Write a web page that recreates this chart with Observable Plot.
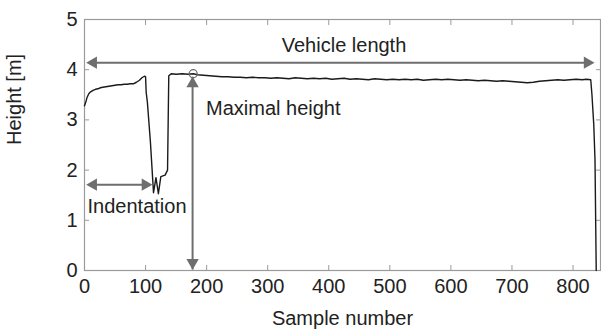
<!DOCTYPE html>
<html>
<head>
<meta charset="utf-8">
<script src="https://cdn.jsdelivr.net/npm/d3@7"></script>
<script src="https://cdn.jsdelivr.net/npm/@observablehq/plot@0.6"></script>
<style>
  html, body { margin: 0; padding: 0; background: #fff; }
  #chart svg { display: block; }
</style>
</head>
<body>
<div id="chart"></div>
<script>
// Samples (x) and measured heights (m)
const samples = [0, 2, 4, 7, 10, 14, 18, 22, 26, 30, 35, 40, 45, 50, 55, 60, 65, 70, 75, 80, 85, 90, 94, 98, 100,
  101, 103, 108, 112, 113, 114, 117, 121, 125, 132, 136, 138, 140, 142,
  150, 160, 170, 178, 185, 195, 205, 215, 225, 235, 245, 255, 265, 275, 285,
  295, 305, 315, 325, 335, 345, 355, 365, 375, 385, 395, 405, 415, 425, 435, 445, 455, 465, 475, 485, 495,
  505, 515, 525, 535, 545, 555, 565, 575, 585, 595, 605, 615, 625, 635, 645, 655, 665, 675, 685, 695,
  705, 715, 725, 735, 745, 755, 765, 775, 785, 795, 805, 815, 822, 829, 831, 834, 836, 838];
const heights = [3.28, 3.35, 3.44, 3.52, 3.56, 3.59, 3.61, 3.62, 3.64, 3.65, 3.66, 3.67, 3.68, 3.69, 3.70, 3.70, 3.71, 3.71, 3.72, 3.72, 3.75, 3.79, 3.84, 3.87, 3.86,
  3.55, 3.35, 2.55, 1.75, 1.55, 1.62, 1.85, 1.53, 1.87, 1.90, 2.0, 3.88, 3.90, 3.92,
  3.91, 3.92, 3.91, 3.92, 3.90, 3.89, 3.88, 3.87, 3.86, 3.86, 3.85, 3.85, 3.84, 3.85, 3.84,
  3.84, 3.83, 3.84, 3.83, 3.82, 3.84, 3.83, 3.82, 3.83, 3.82, 3.83, 3.81, 3.82, 3.83, 3.81, 3.82, 3.81, 3.80, 3.82, 3.81, 3.80,
  3.81, 3.80, 3.81, 3.80, 3.81, 3.79, 3.80, 3.81, 3.80, 3.81, 3.80, 3.79, 3.80, 3.79, 3.78, 3.79, 3.78, 3.77, 3.78, 3.77,
  3.76, 3.75, 3.74, 3.75, 3.77, 3.78, 3.79, 3.80, 3.79, 3.80, 3.81, 3.80, 3.81, 3.80, 3.5, 2.9, 2.2, 0];

const xTicks = [0, 100, 200, 300, 400, 500, 600, 700, 800];
const yTicks = [0, 1, 2, 3, 4, 5];

// Annotation values
const lengthArrow = {x1: 3, x2: 835, y: 4.14};
const maxPoint = {x: 178, y: 3.92};
const maxArrow = {x: 177, y1: 3.86, y2: 0.02};
const indentArrow = {x1: 3, x2: 111, y: 1.71};
const centerLabels = [{text: "Vehicle length", x: 425, y: 4.48}];
const startLabels = [
  {text: "Maximal height", x: 199, y: 3.23},
  {text: "Indentation", x: 5, y: 1.27}
];

const data = samples.map((s, i) => ({s, h: heights[i]}));
const gray = "#6e6e6e";
const axisGray = "#9a9a9a";
const font = "Liberation Sans, Arial, sans-serif";
const fs = 20;

const chart = Plot.plot({
  width: 601,
  height: 333,
  marginTop: 19,
  marginRight: 1,
  marginBottom: 63,
  marginLeft: 84,
  style: {fontFamily: font, fontSize: fs + "px", color: "#222", background: "#fff"},
  x: {domain: [0, 845]},
  y: {domain: [0, 5]},
  marks: [
    // inward ticks
    Plot.axisX(xTicks, {anchor: "bottom", tickSize: 5, dy: -5, text: null, stroke: axisGray, label: null}),
    Plot.axisX(xTicks, {anchor: "top", tickSize: 5, dy: 5, text: null, stroke: axisGray, label: null}),
    Plot.axisY(yTicks, {anchor: "left", tickSize: 5, dx: 5, text: null, stroke: axisGray, label: null}),
    Plot.axisY(yTicks, {anchor: "right", tickSize: 5, dx: -5, text: null, stroke: axisGray, label: null}),
    // tick labels
    Plot.axisX(xTicks, {anchor: "bottom", tickSize: 0, tickPadding: 8, label: null, fill: "#222", fontSize: fs, tickFormat: d3.format("d")}),
    Plot.axisY(yTicks, {anchor: "left", tickSize: 0, tickPadding: 7, label: null, fill: "#222", fontSize: fs, tickFormat: d3.format("d")}),
    Plot.frame({stroke: axisGray, strokeWidth: 1.2}),
    // axis titles
    Plot.text(["Sample number"], {frameAnchor: "bottom", dy: 54, fontSize: fs, fill: "#222"}),
    Plot.text(["Height [m]"], {frameAnchor: "left", dx: -70, rotate: -90, fontSize: fs, fill: "#222"}),
    // data line
    Plot.line(data, {x: "s", y: "h", stroke: "#1a1a1a", strokeWidth: 1.4}),
    // vehicle length arrow
    Plot.link([lengthArrow], {x1: d => d.x1 + 10, x2: d => d.x2 - 10, y1: "y", y2: "y", stroke: gray, strokeWidth: 2}),
    Plot.dot([lengthArrow], {x: "x1", y: "y", symbol: "triangle", rotate: -90, r: 4.6, fill: gray, dx: 7}),
    Plot.dot([lengthArrow], {x: "x2", y: "y", symbol: "triangle", rotate: 90, r: 4.6, fill: gray, dx: -7}),
    // maximal height arrow
    Plot.link([maxArrow], {x1: "x", x2: "x", y1: "y1", y2: "y2", stroke: gray, strokeWidth: 2}),
    Plot.dot([maxArrow], {x: "x", y: "y1", symbol: "triangle", rotate: 0, r: 4.6, fill: gray, dy: 7}),
    Plot.dot([maxArrow], {x: "x", y: "y2", symbol: "triangle", rotate: 180, r: 4.6, fill: gray, dy: -7}),
    Plot.dot([maxPoint], {x: "x", y: "y", r: 4, stroke: gray, strokeWidth: 1.3, fill: "none"}),
    // indentation arrow
    Plot.link([indentArrow], {x1: d => d.x1 + 10, x2: d => d.x2 - 10, y1: "y", y2: "y", stroke: gray, strokeWidth: 2}),
    Plot.dot([indentArrow], {x: "x1", y: "y", symbol: "triangle", rotate: -90, r: 4.6, fill: gray, dx: 7}),
    Plot.dot([indentArrow], {x: "x2", y: "y", symbol: "triangle", rotate: 90, r: 4.6, fill: gray, dx: -7}),
    // annotation texts
    Plot.text(centerLabels, {x: "x", y: "y", text: "text", textAnchor: "middle", fontSize: fs, fill: "#222"}),
    Plot.text(startLabels, {x: "x", y: "y", text: "text", textAnchor: "start", fontSize: fs, fill: "#222"})
  ]
});
document.getElementById("chart").appendChild(chart);
</script>
</body>
</html>
